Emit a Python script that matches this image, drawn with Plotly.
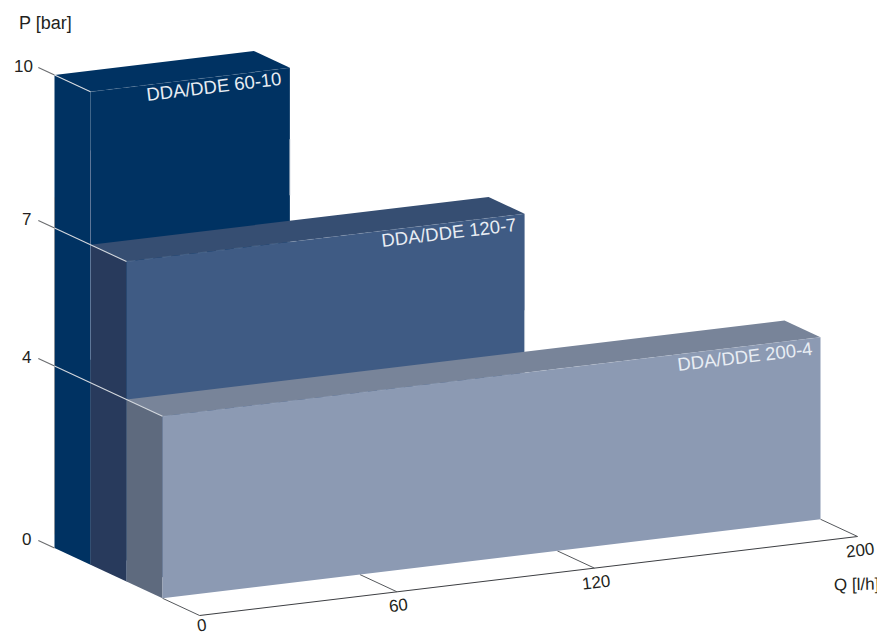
import numpy as np
import plotly.graph_objects as go

# ---- data ----
MODELS = ["DDA/DDE 60-10", "DDA/DDE 120-7", "DDA/DDE 200-4"]
MAX_FLOW = [60.6, 121, 200]
MAX_PRESSURE = [10, 7, 4]
Q_TICKS = [0, 60, 120, 200]
P_TICKS = [0, 4, 7, 10]

# ---- oblique projection of (Q, P, depth) on to the drawing plane ----
P_SCALE = [0, 182, 320, 473]   # the schematic pressure axis is not quite linear


def proj(q, p, d):
    q, p, d = np.asarray(q, float), np.asarray(p, float), np.asarray(d, float)
    return (54.5 + 36.0 * d + 3.29 * q,
            548.0 + 16.75 * d - 0.395 * q - np.interp(p, P_TICKS, P_SCALE))


FRONT = ["#003262", "#3f5b84", "#8c9ab3"]
TOP = ["#003262", "#364e72", "#788499"]
SIDE = ["#003262", "#283a5c", "#5e6a7e"]
INK = "#231f20"
FONT = "Liberation Sans"
ANGLE = -6.85

fig = go.Figure()


def poly(q, p, d, color):
    x, y = proj(q, p, d)
    fig.add_trace(go.Scatter(x=x, y=y, mode="lines", fill="toself", fillcolor=color,
                             line=dict(width=0, color=color), hoverinfo="skip", showlegend=False))


def line(q, p, d, color, width=1.0, dash="solid"):
    x, y = proj(q, p, d)
    fig.add_trace(go.Scatter(x=x, y=y, mode="lines", line=dict(width=width, color=color, dash=dash),
                             hoverinfo="skip", showlegend=False))


def text(x, y, s, size, color=INK, angle=0):
    fig.add_annotation(x=x, y=y, text=s, showarrow=False, xref="x", yref="y", textangle=angle,
                       xanchor="center", yanchor="middle",
                       font=dict(family=FONT, size=size, color=color))


# floor
line([0, 0], [0, 0], [3, 4.03], "#55585c", 1)
line([0, Q_TICKS[-1]], [0, 0], [4.03, 4.03], "#3c3e42", 1.1)
for q in Q_TICKS[1:]:
    line([q, q], [0, 0], [3, 4.03], "#55585c", 1)

# blocks, back to front
for i, (qm, pm) in enumerate(zip(MAX_FLOW, MAX_PRESSURE)):
    d0, d1 = i, i + 1
    poly([0, 0, 0, 0], [0, pm, pm, 0], [d0, d0, d1, d1], SIDE[i])
    poly([0, qm, qm, 0], [pm, pm, pm, pm], [d0, d0, d1, d1], TOP[i])
    poly([0, qm, qm, 0], [0, 0, pm, pm], [d1, d1, d1, d1], FRONT[i])
    line([0, qm], [pm, pm], [d1, d1], "rgba(255,255,255,0.15)", 0.8, "dash")

# faint edges of the blocks
line([0, 0], [8.85, 4.5], [1, 1], "#5d7698", 1)
line([0, 0], [7.6, 0.3], [0, 0], "#8a8f96", 0.8)
line([MAX_FLOW[0], MAX_FLOW[0]], [8.6, 7.5], [1, 1], "#c3cbd6", 0.8)
line([MAX_FLOW[1], MAX_FLOW[1]], [4.9, 4], [2, 2], "#c3cbd6", 0.8)

# pressure ticks: grey outside the blocks, pale over them
for p in P_TICKS:
    tx, ty = proj(0, p, -0.45)
    line([0, 0], [p, p], [-0.45, 0], "#6b6d70", 1.1)
    if p in MAX_PRESSURE:
        line([0, 0], [p, p], [0, MAX_PRESSURE.index(p) + 1], "#d4d8de", 1.1)
    text(float(tx) - (15 if p == 10 else 12), float(ty) - 1, str(p), 17)

text(45.5, 23, "P [bar]", 18)

# flow tick labels (the 0 sits just inside the lower page edge)
for q in Q_TICKS:
    tx, ty = proj(q, 0, 4.03)
    text(float(tx) + 2, float(ty) + (10 if q == 0 else 14), str(q), 17, angle=ANGLE)
text(856, 584, "Q [l/h]", 17, angle=-1)

# block labels
for name, qm, pm, d in zip(MODELS, MAX_FLOW, MAX_PRESSURE, [1, 2, 3]):
    cx, cy = proj(qm, pm, d)
    text(float(cx) - 76, float(cy) + 19, name, 18.5, color="#e8edf3", angle=ANGLE)

# the page keeps an 8 px margin, so the plot area covers the drawing plane from 8 px on
fig.update_layout(
    width=877, height=625, autosize=False,
    margin=dict(l=0, r=0, t=0, b=0),
    paper_bgcolor="white", plot_bgcolor="white", showlegend=False,
    xaxis=dict(range=[8, 885], visible=False, fixedrange=True),
    yaxis=dict(range=[633, 8], visible=False, fixedrange=True),
)
fig.write_html("out.html", config=dict(displayModeBar=False))
